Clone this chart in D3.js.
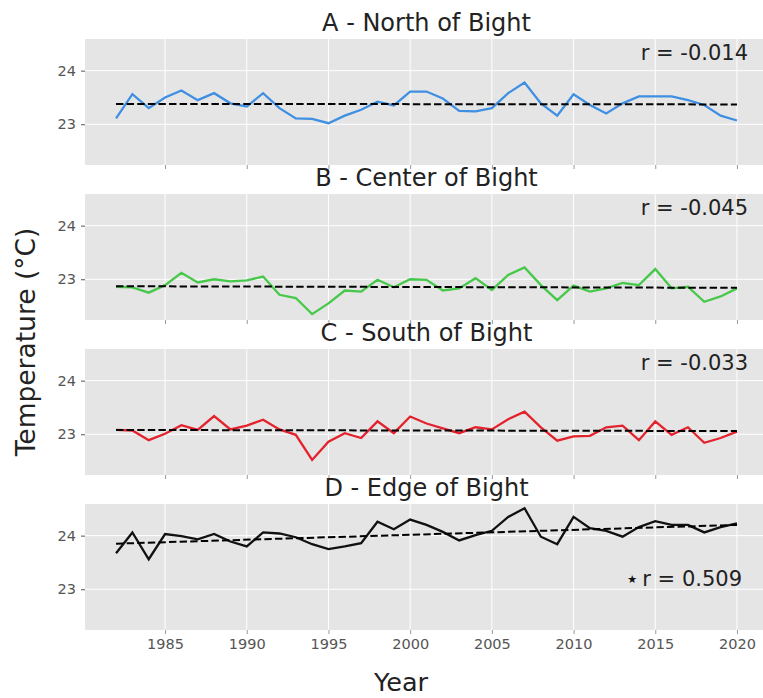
<!DOCTYPE html>
<html>
<head>
<meta charset="utf-8">
<script src="https://cdn.jsdelivr.net/npm/d3@7"></script>
<style>
  html, body { margin: 0; padding: 0; background: #ffffff; }
  svg { display: block; font-family: "DejaVu Sans", sans-serif; }
</style>
</head>
<body>
<svg id="chart" width="763" height="698"></svg>
<script>
// Annual mean temperature (°C) by region, 1982–2020
const years = [1982, 1983, 1984, 1985, 1986, 1987, 1988, 1989, 1990, 1991,
               1992, 1993, 1994, 1995, 1996, 1997, 1998, 1999, 2000, 2001,
               2002, 2003, 2004, 2005, 2006, 2007, 2008, 2009, 2010, 2011,
               2012, 2013, 2014, 2015, 2016, 2017, 2018, 2019, 2020];

const northTemps = [23.11, 23.56, 23.30, 23.50, 23.63, 23.45, 23.58, 23.39, 23.33, 23.58,
                    23.30, 23.11, 23.10, 23.02, 23.16, 23.27, 23.42, 23.35, 23.61, 23.61,
                    23.48, 23.25, 23.24, 23.30, 23.58, 23.78, 23.39, 23.16, 23.56, 23.36,
                    23.20, 23.39, 23.52, 23.52, 23.52, 23.45, 23.36, 23.16, 23.07];

const centerTemps = [22.86, 22.85, 22.75, 22.89, 23.12, 22.94, 23.00, 22.96, 22.98, 23.05,
                     22.71, 22.65, 22.35, 22.55, 22.79, 22.77, 22.99, 22.85, 23.00, 22.99,
                     22.79, 22.83, 23.02, 22.80, 23.08, 23.22, 22.89, 22.61, 22.88, 22.77,
                     22.83, 22.93, 22.89, 23.19, 22.83, 22.86, 22.58, 22.68, 22.83];

const southTemps = [23.08, 23.07, 22.89, 23.01, 23.17, 23.08, 23.34, 23.09, 23.16, 23.27,
                    23.09, 22.99, 22.52, 22.86, 23.02, 22.93, 23.24, 23.02, 23.33, 23.20,
                    23.11, 23.02, 23.13, 23.09, 23.28, 23.42, 23.13, 22.88, 22.96, 22.97,
                    23.13, 23.16, 22.89, 23.24, 22.99, 23.13, 22.84, 22.93, 23.05];

const edgeTemps = [23.67, 24.06, 23.56, 24.03, 23.99, 23.93, 24.03, 23.89, 23.80, 24.06,
                   24.04, 23.97, 23.84, 23.75, 23.80, 23.86, 24.26, 24.12, 24.30, 24.20,
                   24.07, 23.91, 24.01, 24.09, 24.35, 24.51, 23.98, 23.84, 24.35, 24.14,
                   24.09, 23.98, 24.16, 24.27, 24.20, 24.20, 24.06, 24.16, 24.23];

// Linear trend line, value at first and last year
const trendStart = [23.38, 22.87, 23.08, 23.85];
const trendEnd   = [23.37, 22.84, 23.06, 24.20];

const panelTitles = ["A - North of Bight", "B - Center of Bight", "C - South of Bight", "D - Edge of Bight"];
const rLabels = ["r = -0.014", "r = -0.045", "r = -0.033", "r = 0.509"];
const significant = [false, false, false, true];
const seriesColors = ["#3f8fe3", "#46c84a", "#e4222e", "#111111"];

const yTicks = [23, 24];
const xTicks = [1985, 1990, 1995, 2000, 2005, 2010, 2015, 2020];

const series = [northTemps, centerTemps, southTemps, edgeTemps];

const svg = d3.select("#chart");
const panelLeft = 85, panelRight = 768, panelHeight = 126;
const panelTops = [39, 194, 349, 504];

const x = d3.scaleLinear().domain([1980.1, 2021.9]).range([panelLeft, panelRight]);

series.forEach((vals, i) => {
  const top = panelTops[i];
  const y = d3.scaleLinear().domain([22.24, 24.59]).range([top + panelHeight, top]);
  const g = svg.append("g");

  g.append("rect")
    .attr("x", panelLeft).attr("y", top)
    .attr("width", panelRight - panelLeft).attr("height", panelHeight)
    .attr("fill", "#e5e5e5");

  // grid
  g.selectAll(".vgrid").data(xTicks).join("line")
    .attr("x1", d => x(d)).attr("x2", d => x(d))
    .attr("y1", top).attr("y2", top + panelHeight)
    .attr("stroke", "#ffffff").attr("stroke-width", 1);
  g.selectAll(".hgrid").data(yTicks).join("line")
    .attr("x1", panelLeft).attr("x2", panelRight)
    .attr("y1", d => y(d)).attr("y2", d => y(d))
    .attr("stroke", "#ffffff").attr("stroke-width", 1);

  // axes
  const yAxis = g.append("g")
    .attr("transform", `translate(${panelLeft},0)`)
    .call(d3.axisLeft(y).tickValues(yTicks).tickSize(4).tickPadding(5).tickFormat(d3.format("d")));
  yAxis.select(".domain").remove();
  yAxis.selectAll(".tick line").attr("stroke", "#555");
  yAxis.selectAll(".tick text").attr("fill", "#555").style("font-size", "14.5px")
    .style("font-family", "DejaVu Sans");

  const xAxis = g.append("g")
    .attr("transform", `translate(0,${top + panelHeight})`)
    .call(d3.axisBottom(x).tickValues(xTicks).tickSize(4).tickPadding(5)
      .tickFormat(i === 3 ? d3.format("d") : () => ""));
  xAxis.select(".domain").remove();
  xAxis.selectAll(".tick line").attr("stroke", "#999");
  xAxis.selectAll(".tick text").attr("fill", "#555").style("font-size", "14.5px")
    .style("font-family", "DejaVu Sans");

  // data line
  const line = d3.line().x((d, k) => x(years[k])).y(d => y(d));
  g.append("path")
    .datum(vals)
    .attr("d", line)
    .attr("fill", "none")
    .attr("stroke", seriesColors[i])
    .attr("stroke-width", 2.3)
    .attr("stroke-linejoin", "miter");

  // trend line
  g.append("line")
    .attr("x1", x(years[0])).attr("x2", x(years[years.length - 1]))
    .attr("y1", y(trendStart[i])).attr("y2", y(trendEnd[i]))
    .attr("stroke", "#000").attr("stroke-width", 2)
    .attr("stroke-dasharray", "7.4,3.2");

  // panel title
  svg.append("text")
    .attr("x", (panelLeft + panelRight) / 2)
    .attr("y", top - 8)
    .attr("text-anchor", "middle")
    .attr("fill", "#222")
    .style("font-size", "24px")
    .text(panelTitles[i]);

  // correlation label
  if (significant[i]) {
    const t = svg.append("text")
      .attr("x", 742).attr("y", top + 82)
      .attr("text-anchor", "end")
      .attr("fill", "#222")
      .style("font-size", "21px")
      .text(rLabels[i]);
    const w = t.node().getComputedTextLength();
    svg.append("text")
      .attr("x", 742 - w - 10).attr("y", top + 79)
      .attr("text-anchor", "middle")
      .attr("fill", "#111")
      .style("font-size", "11px")
      .text("★");
  } else {
    svg.append("text")
      .attr("x", 748).attr("y", top + 21)
      .attr("text-anchor", "end")
      .attr("fill", "#222")
      .style("font-size", "21px")
      .text(rLabels[i]);
  }
});

// axis titles
svg.append("text")
  .attr("transform", "translate(35,342) rotate(-90)")
  .attr("text-anchor", "middle")
  .attr("fill", "#222")
  .style("font-size", "26.5px")
  .text("Temperature (°C)");

svg.append("text")
  .attr("x", 401).attr("y", 691)
  .attr("text-anchor", "middle")
  .attr("fill", "#222")
  .style("font-size", "25.5px")
  .text("Year");
</script>
</body>
</html>
